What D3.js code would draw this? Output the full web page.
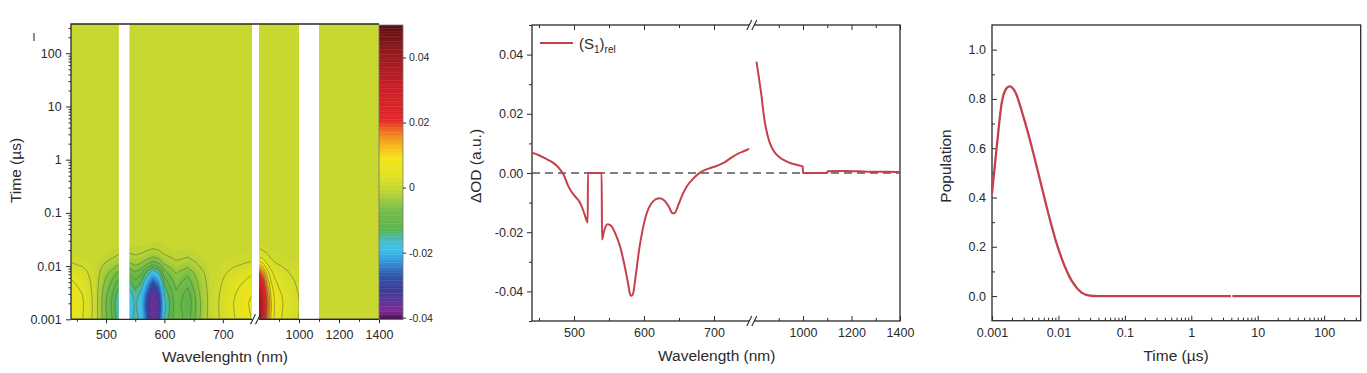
<!DOCTYPE html>
<html><head><meta charset="utf-8">
<script src="https://cdn.jsdelivr.net/npm/d3@7"></script>
<style>
body{margin:0;background:#fff;}
svg{display:block;font-family:"Liberation Sans",Arial,sans-serif;}
</style></head><body>
<svg id="c" width="1367" height="373"></svg>
<script>
// ================= DATA =================
// Heat map (ΔOD) : rows = delay times (µs), columns = wavelengths (nm)
const heatTimes = [0.001,0.0015,0.002,0.003,0.004,0.005,0.0065,0.008,0.01,0.012,0.015,0.02,0.025,0.03,0.04,355];
const heatLamA = [440,460,480,500,510,520,540,550,560,570,580,590,600,620,640,660,680,700,720,750];
const heatLamB = [800,820,840,860,880,900,950,1000,1100,1400];
const heatA = [
 [0.0065,0.0045,0.0007,-0.0070,-0.0102,-0.0149,-0.0186,-0.0149,-0.0177,-0.0270,-0.0363,-0.0307,-0.0163,-0.0081,-0.0121,-0.0047,0,0.0021,0.0044,0.0076],
 [0.0069,0.0047,0.0008,-0.0074,-0.0108,-0.0157,-0.0196,-0.0157,-0.0186,-0.0284,-0.0382,-0.0323,-0.0172,-0.0085,-0.0127,-0.0049,0,0.0023,0.0046,0.0080],
 [0.0070,0.0048,0.0008,-0.0075,-0.0110,-0.0160,-0.0200,-0.0160,-0.0190,-0.0290,-0.0390,-0.0330,-0.0175,-0.0087,-0.0130,-0.0050,0,0.0023,0.0047,0.0082],
 [0.0064,0.0044,0.0007,-0.0069,-0.0101,-0.0147,-0.0184,-0.0147,-0.0175,-0.0267,-0.0359,-0.0304,-0.0161,-0.0080,-0.0120,-0.0046,0,0.0021,0.0043,0.0075],
 [0.0056,0.0038,0.0006,-0.0060,-0.0088,-0.0128,-0.0160,-0.0128,-0.0152,-0.0232,-0.0312,-0.0264,-0.0140,-0.0070,-0.0104,-0.0040,0,0.0018,0.0038,0.0066],
 [0.0049,0.0034,0.0006,-0.0053,-0.0077,-0.0112,-0.0140,-0.0112,-0.0133,-0.0203,-0.0273,-0.0231,-0.0123,-0.0061,-0.0091,-0.0035,0,0.0016,0.0033,0.0057],
 [0.0040,0.0027,0.0005,-0.0043,-0.0063,-0.0091,-0.0114,-0.0091,-0.0108,-0.0165,-0.0222,-0.0188,-0.0100,-0.0050,-0.0074,-0.0029,0,0.0013,0.0027,0.0047],
 [0.0032,0.0022,0.0004,-0.0034,-0.0050,-0.0072,-0.0090,-0.0072,-0.0086,-0.0131,-0.0176,-0.0149,-0.0079,-0.0039,-0.0059,-0.0023,0,0.0010,0.0021,0.0037],
 [0.0021,0.0014,0.0002,-0.0023,-0.0033,-0.0048,-0.0060,-0.0048,-0.0057,-0.0087,-0.0117,-0.0099,-0.0053,-0.0026,-0.0039,-0.0015,0,0.0007,0.0014,0.0025],
 [0.0014,0.0010,0.0002,-0.0015,-0.0022,-0.0032,-0.0040,-0.0032,-0.0038,-0.0058,-0.0078,-0.0066,-0.0035,-0.0017,-0.0026,-0.0010,0,0.0005,0.0009,0.0016],
 [0.0008,0.0005,0.0001,-0.0008,-0.0012,-0.0018,-0.0022,-0.0018,-0.0021,-0.0032,-0.0043,-0.0036,-0.0019,-0.0010,-0.0014,-0.0006,0,0.0003,0.0005,0.0009],
 [0.0003,0.0002,0,-0.0003,-0.0005,-0.0007,-0.0009,-0.0007,-0.0009,-0.0013,-0.0018,-0.0015,-0.0008,-0.0004,-0.0006,-0.0002,0,0.0001,0.0002,0.0004],
 [0.0001,0.0001,0,-0.0002,-0.0002,-0.0003,-0.0004,-0.0003,-0.0004,-0.0006,-0.0008,-0.0007,-0.0004,-0.0002,-0.0003,-0.0001,0,0,0.0001,0.0002],
 [0.0001,0,0,-0.0001,-0.0001,-0.0001,-0.0002,-0.0001,-0.0002,-0.0002,-0.0003,-0.0003,-0.0001,-0.0001,-0.0001,0,0,0,0,0.0001],
 [0,0,0,0,0,0,0,0,0,0,0,0,0,0,0,0,0,0,0,0],
 [0,0,0,0,0,0,0,0,0,0,0,0,0,0,0,0,0,0,0,0]
];
const heatB = [
 [0.0391,0.0298,0.0177,0.0102,0.0065,0.0051,0.0028,0.0014,0,0],
 [0.0412,0.0314,0.0186,0.0108,0.0069,0.0054,0.0029,0.0015,0,0],
 [0.0420,0.0320,0.0190,0.0110,0.0070,0.0055,0.0030,0.0015,0,0],
 [0.0386,0.0294,0.0175,0.0101,0.0064,0.0051,0.0028,0.0014,0,0],
 [0.0336,0.0256,0.0152,0.0088,0.0056,0.0044,0.0024,0.0012,0,0],
 [0.0294,0.0224,0.0133,0.0077,0.0049,0.0039,0.0021,0.0011,0,0],
 [0.0239,0.0182,0.0108,0.0063,0.0040,0.0031,0.0017,0.0009,0,0],
 [0.0189,0.0144,0.0086,0.0050,0.0032,0.0025,0.0014,0.0007,0,0],
 [0.0126,0.0096,0.0057,0.0033,0.0021,0.0017,0.0009,0.0005,0,0],
 [0.0084,0.0064,0.0038,0.0022,0.0014,0.0011,0.0006,0.0003,0,0],
 [0.0046,0.0035,0.0021,0.0012,0.0008,0.0006,0.0003,0.0002,0,0],
 [0.0019,0.0014,0.0009,0.0005,0.0003,0.0002,0.0001,0.0001,0,0],
 [0.0008,0.0006,0.0004,0.0002,0.0001,0.0001,0.0001,0,0,0],
 [0.0003,0.0003,0.0002,0.0001,0.0001,0,0,0,0,0],
 [0,0,0,0,0,0,0,0,0,0],
 [0,0,0,0,0,0,0,0,0,0]
];
const heatGaps = [[522, 540], [1000, 1100]];          // no-data bands (nm)
const colorStops = [-0.0405,-0.038,-0.035,-0.031,-0.027,-0.023,-0.019,-0.016,-0.013,-0.007,-0.003,0,0.004,0.009,0.013,0.017,0.021,0.03,0.042,0.05];
const colorHex   = ["#3a0d4a","#7e2a92","#5e3399","#3a3e98","#2e55a7","#3590d6","#3cc0ef","#47bcc0","#58b54f","#74bd47","#a6cd3b","#c8d830","#e1e222","#f5e514","#f8b41b","#f1791f","#e4262a","#cc1f27","#921a1d","#5c1010"];
const colorbarTicks = [-0.04, -0.02, 0, 0.02, 0.04];
const colorbarLabels = ["-0.04", "-0.02", "0", "0.02", "0.04"];
const lineLevels = [-0.0165,-0.0135,-0.0105,-0.0075,-0.0045,-0.0015,0.0015,0.0045,0.0075,0.0105,0.0135,0.0165,0.0195];

const timeTicks = [0.001, 0.01, 0.1, 1, 10, 100];
const timeLabels = ["0.001", "0.01", "0.1", "1", "10", "100"];
const lamTicksA = [500, 600, 700], lamMinorA = [450, 550, 650];
const lamTicksB = [1000, 1200, 1400], lamMinorB = [900, 1100, 1300];

// Spectrum (S1)rel
const specLamA = [440,450,460,470,478,485,492,500,508,513,518,519.5,520,539.5,540,543,548,553,560,566,572,577,581,584,588,593,598,604,610,617,623,629,635,641,644,649,655,662,670,678,685,695,705,715,725,735,745,750];
const specValA = [0.0069,0.0060,0.0048,0.0035,0.0018,-0.0005,-0.0045,-0.0075,-0.0098,-0.0125,-0.0160,-0.0168,0,0,-0.0225,-0.0195,-0.0173,-0.0178,-0.0210,-0.0250,-0.0310,-0.0370,-0.0415,-0.0410,-0.0350,-0.0260,-0.0192,-0.0135,-0.0105,-0.0088,-0.0085,-0.0093,-0.0112,-0.0136,-0.0135,-0.0108,-0.0073,-0.0042,-0.0020,-0.0002,0.0008,0.0017,0.0025,0.0036,0.0052,0.0066,0.0076,0.0082];
const specLamB = [808,815,822,829,836,843,853,863,877,891,910,932,950,973,999,1000,1100,1101,1150,1200,1250,1300,1350,1400];
const specValB = [0.0376,0.0340,0.0300,0.0260,0.0210,0.0170,0.0130,0.0102,0.0078,0.0062,0.0049,0.0039,0.0033,0.0028,0.0022,0,0,0.0006,0.0007,0.0006,0.0005,0.0004,0.0004,0.0003];
const odTicks = [-0.04, -0.02, 0, 0.02, 0.04];
const odMinor = [-0.05, -0.03, -0.01, 0.01, 0.03, 0.05];

// Population kinetics
const popTimes = [0.001,0.00118,0.0014,0.00166,0.00186,0.00222,0.00296,0.00395,0.00527,0.00703,0.00938,0.01252,0.0167,0.0223,0.0297,0.04,0.1,1,3.95,4.05,4.15,10,100,355];
const popVals  = [0.417,0.607,0.783,0.844,0.851,0.83,0.729,0.607,0.472,0.336,0.214,0.119,0.052,0.014,0.002,0,0,0,0,null,0,0,0,0];
const popTicks = [0, 0.2, 0.4, 0.6, 0.8, 1.0];
const popMinor = [0.1, 0.3, 0.5, 0.7, 0.9];

// ================= DRAWING =================
const svg = d3.select("#c");
const INK = "#2a2a2a";
const RED = "#c4404a";

function axis(orient, scale, values, size, pad, fmt, tx, ty, fs) {
  const a = d3[orient](scale).tickValues(values).tickSize(size).tickPadding(pad)
    .tickFormat(fmt || (() => ""));
  const g = svg.append("g").attr("transform", `translate(${tx},${ty})`).call(a);
  g.attr("font-family", null).attr("font-size", null);
  g.select(".domain").remove();
  g.selectAll("line").attr("stroke", INK).attr("stroke-width", 1);
  g.selectAll("text").attr("fill", INK).style("font-size", (fs || 12.5) + "px");
  return g;
}
function title(txt, x, y, rot) {
  svg.append("text").attr("transform", `translate(${x},${y})` + (rot ? " rotate(-90)" : ""))
    .attr("text-anchor", "middle").attr("fill", INK).style("font-size", "15.5px").text(txt);
}
function breakMark(x, y) {
  svg.append("rect").attr("x", x - 2.5).attr("y", y - 2).attr("width", 5).attr("height", 4).attr("fill", "#fff");
  [-2.5, 2.5].forEach(dx => svg.append("line")
    .attr("x1", x + dx - 2.5).attr("y1", y + 5).attr("x2", x + dx + 2.5).attr("y2", y - 5)
    .attr("stroke", INK).attr("stroke-width", 1.1));
}

// ---------- Panel 1 : contour map ----------
const y1 = d3.scaleLog().domain([0.001, 355]).range([319.3, 24]);
const x1A = d3.scaleLinear().domain([440, 750]).range([71, 252]);
const x1B = d3.scaleLinear().domain([800, 1400]).range([259, 379]);
const color = d3.scaleLinear().domain(colorStops).range(colorHex).clamp(true);
const fillThresholds = d3.range(-0.0445, 0.0505, 0.001);

const defs = svg.append("defs");
function heat(lams, xs, matrix, id) {
  const n = lams.length, m = heatTimes.length;
  const vals = matrix.flat();
  const ix = d3.scaleLinear().domain(lams.map((_, i) => i + 0.5)).range(lams.map(xs)).clamp(true);
  const iy = d3.scaleLinear().domain(heatTimes.map((_, j) => j + 0.5)).range(heatTimes.map(y1)).clamp(true);
  const path = d3.geoPath(d3.geoTransform({point(x, y) { this.stream.point(ix(x), iy(y)); }}));
  const [xa, xb] = xs.range();
  defs.append("clipPath").attr("id", id).append("rect")
    .attr("x", xa).attr("y", 24).attr("width", xb - xa).attr("height", 295.3);
  defs.append("clipPath").attr("id", id + "l").append("rect")
    .attr("x", xa + 1).attr("y", 25).attr("width", xb - xa - 2).attr("height", 293.5);
  const g = svg.append("g").attr("clip-path", `url(#${id})`);
  g.selectAll("path").data(d3.contours().size([n, m]).thresholds(fillThresholds)(vals))
    .join("path").attr("d", path).attr("fill", d => color(d.value + 0.0005));
  svg.append("g").attr("clip-path", `url(#${id}l)`).selectAll("path")
    .data(d3.contours().size([n, m]).thresholds(lineLevels)(vals))
    .join("path").attr("d", path).attr("fill", "none")
    .attr("stroke", "#56683a").attr("stroke-opacity", 0.75).attr("stroke-width", 0.7);
}
heat(heatLamA, x1A, heatA, "hA");
heat(heatLamB, x1B, heatB, "hB");
// no-data bands
heatGaps.forEach(([a, b]) => {
  const xs = a < 760 ? x1A : x1B;
  svg.append("rect").attr("x", xs(a)).attr("y", 24).attr("width", xs(b) - xs(a)).attr("height", 295.3).attr("fill", "#fff");
});
svg.append("rect").attr("x", 252).attr("y", 24).attr("width", 7).attr("height", 295.3).attr("fill", "#fff");
// frame
svg.append("path").attr("d", "M71,319.3V24H379").attr("fill", "none").attr("stroke", INK).attr("stroke-width", 1.3);
svg.append("path").attr("d", "M71,319.3H252M259,319.3H379").attr("fill", "none").attr("stroke", INK).attr("stroke-width", 1.3);
breakMark(255.5, 319.3);
// axes
axis("axisLeft", y1, timeTicks, 5, 4.3, (d, i) => timeLabels[i], 71, 0);
axis("axisLeft", y1, timeTicks.flatMap(d => d3.range(2, 10).map(k => d * k)).filter(v => v <= 355), 2.5, 0, null, 71, 0);
axis("axisBottom", x1A, lamTicksA, 4, 6.5, d => d, 0, 319.3);
axis("axisBottom", x1A, lamMinorA, 2.5, 0, null, 0, 319.3);
axis("axisBottom", x1B, lamTicksB, 4, 6.5, d => d, 0, 319.3);
axis("axisBottom", x1B, lamMinorB, 2.5, 0, null, 0, 319.3);
title("Time (µs)", 21, 170.5, true);
title("Wavelenghtn (nm)", 225, 362, false);
svg.append("line").attr("x1", 34).attr("x2", 34).attr("y1", 33).attr("y2", 41).attr("stroke", "#444").attr("stroke-width", 1.2);

// colour bar
const cbY = d3.scaleLinear().domain([-0.0405, 0.05]).range([319.3, 25]);
svg.append("g").selectAll("rect").data(d3.range(-0.0405, 0.05, 0.0005)).join("rect")
  .attr("x", 379).attr("width", 24)
  .attr("y", d => cbY(d + 0.0005)).attr("height", d => cbY(d) - cbY(d + 0.0005) + 0.4)
  .attr("fill", d => color(d + 0.00025));
svg.append("rect").attr("x", 379).attr("y", 25).attr("width", 24).attr("height", 294.3)
  .attr("fill", "none").attr("stroke", "#777").attr("stroke-width", 0.8);
axis("axisRight", cbY, colorbarTicks, 3, 3, (d, i) => colorbarLabels[i], 403, 0, 10.5);

// ---------- Panel 2 : spectrum ----------
const x2A = d3.scaleLinear().domain([440, 750]).range([532, 749]);
const x2B = d3.scaleLinear().domain([800, 1400]).range([754.5, 900]);
const y2 = d3.scaleLinear().domain([-0.05, 0.05]).range([321, 25]);
svg.append("rect").attr("x", 532).attr("y", 25).attr("width", 368).attr("height", 296)
  .attr("fill", "none").attr("stroke", INK).attr("stroke-width", 1.3);
axis("axisLeft", y2, odTicks, 5, 3.7, d => d.toFixed(2), 532, 0);
axis("axisLeft", y2, odMinor, 3, 0, null, 532, 0);
[[x2A, lamTicksA, lamMinorA], [x2B, lamTicksB, lamMinorB]].forEach(([xs, maj, mn]) => {
  axis("axisBottom", xs, maj, -5, 7, d => d, 0, 321);
  axis("axisBottom", xs, mn, -3, 0, null, 0, 321);
  axis("axisTop", xs, maj, -5, 0, null, 0, 25);
  axis("axisTop", xs, mn, -3, 0, null, 0, 25);
});
breakMark(751.8, 25);
breakMark(751.8, 321);
svg.append("line").attr("x1", 532).attr("x2", 900).attr("y1", y2(0)).attr("y2", y2(0))
  .attr("stroke", "#555").attr("stroke-width", 1.4).attr("stroke-dasharray", "8,5");
const lineA = d3.line().x(d => x2A(d[0])).y(d => y2(d[1])).curve(d3.curveMonotoneX);
const lineB = d3.line().x(d => x2B(d[0])).y(d => y2(d[1])).curve(d3.curveMonotoneX);
svg.append("path").attr("d", lineA(d3.zip(specLamA, specValA))).attr("fill", "none").attr("stroke", RED).attr("stroke-width", 2);
svg.append("path").attr("d", lineB(d3.zip(specLamB, specValB))).attr("fill", "none").attr("stroke", RED).attr("stroke-width", 2);
// legend
svg.append("line").attr("x1", 540).attr("x2", 573).attr("y1", 43).attr("y2", 43).attr("stroke", RED).attr("stroke-width", 2);
const lt = svg.append("text").attr("x", 579).attr("y", 49).attr("fill", INK).style("font-size", "15px");
lt.append("tspan").text("(S");
lt.append("tspan").attr("dy", 4).style("font-size", "10px").text("1");
lt.append("tspan").attr("dy", -4).text(")");
lt.append("tspan").attr("dy", 4).style("font-size", "10px").text("rel");
title("ΔOD (a.u.)", 481, 166, true);
title("Wavelength (nm)", 716.7, 361, false);

// ---------- Panel 3 : population ----------
const x3 = d3.scaleLog().domain([0.001, 355]).range([992, 1360.7]);
const y3 = d3.scaleLinear().domain([-0.1, 1.1]).range([320.7, 25]);
svg.append("rect").attr("x", 992).attr("y", 25).attr("width", 368.7).attr("height", 295.7)
  .attr("fill", "none").attr("stroke", INK).attr("stroke-width", 1.3);
axis("axisLeft", y3, popTicks, -5, 6, d => d.toFixed(1), 992, 0);
axis("axisLeft", y3, popMinor, -3, 0, null, 992, 0);
axis("axisBottom", x3, timeTicks, -5, 7, (d, i) => timeLabels[i], 0, 320.7);
axis("axisBottom", x3, timeTicks.flatMap(d => d3.range(2, 10).map(k => d * k)).filter(v => v <= 355), -3, 0, null, 0, 320.7);
const popLine = d3.line().defined(d => d[1] != null).x(d => x3(d[0])).y(d => y3(d[1])).curve(d3.curveMonotoneX);
svg.append("path").attr("d", popLine(d3.zip(popTimes, popVals))).attr("fill", "none").attr("stroke", RED).attr("stroke-width", 2.3);
title("Population", 950.5, 166, true);
title("Time (µs)", 1176, 360.5, false);
</script>
</body></html>
